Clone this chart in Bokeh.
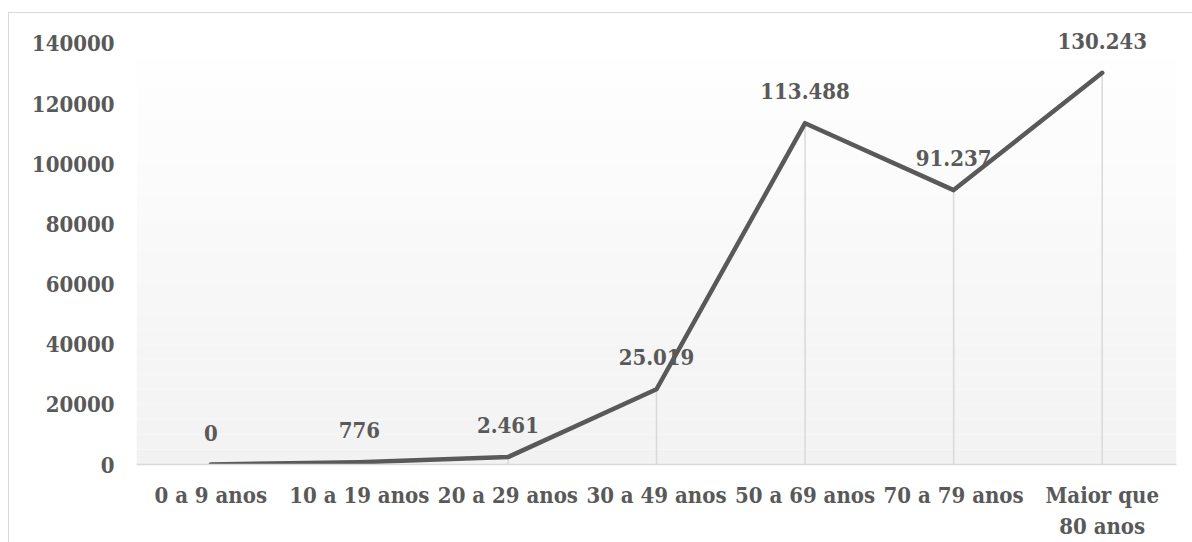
from bokeh.plotting import figure
from bokeh.models import BoxAnnotation, FixedTicker, NumeralTickFormatter, ColumnDataSource
from bokeh.core.properties import value
from bokeh.embed import file_html
from bokeh.resources import INLINE

# Age groups and their totals
categories = ["0 a 9 anos", "10 a 19 anos", "20 a 29 anos", "30 a 49 anos",
              "50 a 69 anos", "70 a 79 anos", "Maior que\n80 anos"]
values = [0, 776, 2461, 25019, 113488, 91237, 130243]
value_labels = ["0", "776", "2.461", "25.019", "113.488", "91.237", "130.243"]
y_ticks = [0, 20000, 40000, 60000, 80000, 100000, 120000, 140000]

FONT = "'DejaVu Serif Condensed', 'DejaVu Serif', serif"
FONT_SIZE = "22px"
TEXT = "#595959"
GRID = "#d9d9d9"

# headroom above the top tick so the highest value label is not clipped
Y_MAX = 140000
Y_END = 147300

p = figure(
    x_range=categories, y_range=(0, Y_END),
    width=1184, height=530,
    min_border_left=127, min_border_right=17,
    min_border_top=8, min_border_bottom=79,
    output_backend="svg", toolbar_location=None,
)
# chart-area border on the left and top
p.margin = (12, 0, 0, 8)
p.styles = {"border-left": "1.5px solid #d9d9d9", "border-top": "1.5px solid #d9d9d9"}

p.outline_line_color = None
p.background_fill_color = "#ffffff"
p.border_fill_color = "#ffffff"
p.xgrid.grid_line_color = None
p.ygrid.grid_line_color = None

# vertical gradient in the plot area: white at the top, light gray at the bottom
n_bands = 28
for i in range(n_bands):
    t = (i + 0.5) / n_bands
    g = round(242 + 13 * t)
    p.add_layout(BoxAnnotation(
        bottom=Y_MAX * i / n_bands, top=Y_MAX * (i + 1) / n_bands,
        fill_color=f"#{g:02x}{g:02x}{g:02x}", fill_alpha=1.0,
        line_color=None, level="underlay",
    ))

src = ColumnDataSource(dict(x=categories, y=values, zero=[0] * len(values), lab=value_labels))

# drop lines from each point down to the axis
p.segment(x0="x", y0="zero", x1="x", y1="y", source=src, line_color=GRID, line_width=1.5)

p.line(x="x", y="y", source=src, line_color=TEXT, line_width=4.5,
       line_join="round", line_cap="round")

# value labels above the points
p.text(x="x", y="y", text="lab", source=src, y_offset=-32,
       text_align="center", text_baseline="middle",
       text_font=value(FONT), text_font_style="bold",
       text_font_size=FONT_SIZE, text_color=TEXT)

# axes
p.xaxis.axis_line_color = GRID
p.xaxis.axis_line_width = 1.5
p.xaxis.major_tick_line_color = None
p.xaxis.minor_tick_line_color = None
p.xaxis.major_tick_out = 0
p.xaxis.major_label_standoff = 17
p.xaxis.major_label_text_font = FONT
p.xaxis.major_label_text_font_style = "bold"
p.xaxis.major_label_text_font_size = FONT_SIZE
p.xaxis.major_label_text_color = TEXT

p.yaxis.ticker = FixedTicker(ticks=y_ticks)
p.yaxis.formatter = NumeralTickFormatter(format="0")
p.yaxis.axis_line_color = None
p.yaxis.major_tick_line_color = None
p.yaxis.minor_tick_line_color = None
p.yaxis.major_tick_out = 0
p.yaxis.major_label_standoff = 22
p.yaxis.major_label_text_font = FONT
p.yaxis.major_label_text_font_style = "bold"
p.yaxis.major_label_text_font_size = FONT_SIZE
p.yaxis.major_label_text_color = TEXT

open("out.html", "w").write(file_html(p, INLINE))
